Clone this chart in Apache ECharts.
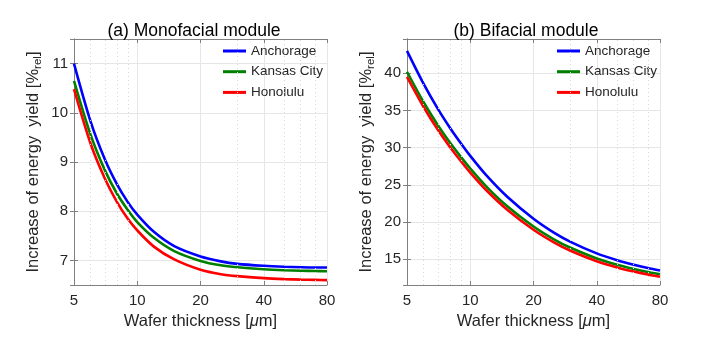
<!DOCTYPE html>
<html>
<head>
<meta charset="utf-8">
<script src="https://cdn.jsdelivr.net/npm/echarts@6/dist/echarts.min.js"></script>
<style>
html,body{margin:0;padding:0;background:#fff}
#chart{width:708px;height:344px}
</style>
</head>
<body>
<div id="chart"></div>
<script>
// wafer thickness (um), log scale in the figure
var thickness = [5, 6, 7, 8, 9, 10, 12, 15, 20, 25, 30, 40, 50, 60, 70, 80];

// (a) monofacial module, increase of energy yield [%rel]
var monoAnchorage = [11.0, 9.82, 9.06, 8.55, 8.19, 7.93, 7.58, 7.29, 7.08, 6.98, 6.93, 6.89, 6.87, 6.86, 6.855, 6.855];
var monoKansas    = [10.65, 9.55, 8.84, 8.36, 8.03, 7.78, 7.46, 7.19, 6.99, 6.90, 6.86, 6.82, 6.80, 6.79, 6.785, 6.78];
var monoHonolulu  = [10.48, 9.37, 8.67, 8.19, 7.85, 7.61, 7.28, 7.02, 6.81, 6.72, 6.68, 6.64, 6.62, 6.61, 6.605, 6.60];

// (b) bifacial module
var biAnchorage = [43.0, 38.56, 35.24, 32.68, 30.63, 28.9, 26.2, 23.4, 20.45, 18.59, 17.35, 15.8, 14.88, 14.27, 13.83, 13.5];
var biKansas    = [40.2, 36.1, 33.04, 30.68, 28.79, 27.2, 24.71, 22.13, 19.41, 17.69, 16.55, 15.12, 14.27, 13.71, 13.3, 13.0];
var biHonolulu  = [39.5, 35.46, 32.43, 30.1, 28.24, 26.66, 24.21, 21.66, 18.97, 17.28, 16.15, 14.74, 13.91, 13.35, 12.95, 12.65];

var xTicks = [5, 10, 20, 40, 80];
var xMinorGrid = [6, 7, 8, 9, 30, 50, 60, 70];
var cities = ['Anchorage', 'Kansas City', 'Honolulu'];
var colors = ['#0000ff', '#008000', '#ff0000'];

var FONT = 'Liberation Sans, Arial, Helvetica, sans-serif';
var INK = '#262626';
var BOX = '#808080';

function lg(t) { return Math.log2(t / 5); }
function pts(arr) {
    return thickness.map(function (t, i) { return [lg(t), arr[i]]; });
}

var myChart = echarts.init(document.getElementById('chart'));

function xAx(g, top) {
    return {
        type: 'value', gridIndex: g, min: 0, max: 4, interval: 1,
        position: top ? 'top' : 'bottom',
        axisLine: { show: true, lineStyle: { color: BOX, width: 1 } },
        axisTick: { show: true, inside: true, length: 4, lineStyle: { color: BOX } },
        axisLabel: {
            show: !top, margin: 8, fontSize: 15, color: INK, fontFamily: FONT,
            formatter: function (v) { return xTicks[Math.round(v)]; }
        },
        splitLine: { show: !top, lineStyle: { color: '#e6e6e6', width: 1 } },
        name: top ? '' : '{t|Wafer thickness [}{i|\u03bc}{t|m]}',
        nameLocation: 'middle', nameGap: 25,
        nameTextStyle: {
            rich: {
                t: { fontSize: 16.5, color: INK, fontFamily: FONT },
                i: { fontSize: 16.5, color: INK, fontFamily: FONT, fontStyle: 'italic' }
            }
        }
    };
}

function yAx(g, right, min, max, split) {
    return {
        type: 'value', gridIndex: g, min: min, max: max, splitNumber: split,
        position: right ? 'right' : 'left',
        axisLine: { show: true, lineStyle: { color: BOX, width: 1 } },
        axisTick: { show: true, inside: true, length: 4, lineStyle: { color: BOX } },
        axisLabel: {
            show: !right, margin: 6, fontSize: 15, color: INK, fontFamily: FONT,
            showMinLabel: false, showMaxLabel: false
        },
        splitLine: { show: !right, lineStyle: { color: '#e6e6e6', width: 1 } },
        name: right ? '' : '{t|Increase of energy  yield [%}{s|rel}{t|]}',
        nameLocation: 'middle', nameGap: 31,
        nameTextStyle: {
            rich: {
                t: { fontSize: 16.5, color: INK, fontFamily: FONT, lineHeight: 20 },
                s: { fontSize: 11.5, color: INK, fontFamily: FONT, lineHeight: 20, padding: [9, 0, 0, 0] }
            }
        }
    };
}

function curve(name, i, data, g) {
    return {
        name: name, type: 'line', xAxisIndex: g * 2, yAxisIndex: g * 2,
        data: pts(data), showSymbol: false, symbol: 'none',
        smooth: 0.3,
        lineStyle: { color: colors[i], width: 2.6 },
        itemStyle: { color: colors[i] },
        z: 3
    };
}

function minorGrid(g) {
    return {
        type: 'line', xAxisIndex: g * 2, yAxisIndex: g * 2, data: [], z: 1,
        silent: true,
        markLine: {
            silent: true, symbol: ['none', 'none'], label: { show: false },
            lineStyle: { color: '#d9d9d9', type: [1, 3], width: 1 },
            data: xMinorGrid.map(function (t) { return { xAxis: lg(t) }; })
        }
    };
}

function legendAt(left) {
    return {
        data: cities, orient: 'vertical', left: left, top: 44, padding: 0,
        icon: 'rect', itemWidth: 23, itemHeight: 3, itemGap: 6.7,
        textStyle: { fontSize: 13.5, color: INK, fontFamily: FONT, lineHeight: 14 }
    };
}

option = {
    backgroundColor: '#fff',
    animation: false,
    title: [
        { text: '(a) Monofacial module', left: 189, top: 17, textAlign: 'center',
          textStyle: { fontSize: 17.5, fontWeight: 'normal', color: '#000', fontFamily: FONT } },
        { text: '(b) Bifacial module', left: 521, top: 17, textAlign: 'center',
          textStyle: { fontSize: 17.5, fontWeight: 'normal', color: '#000', fontFamily: FONT } }
    ],
    legend: [legendAt(223), legendAt(557)],
    grid: [
        { left: 74, top: 39, width: 253, height: 246 },
        { left: 407, top: 39, width: 253, height: 246 }
    ],
    xAxis: [xAx(0, false), xAx(0, true), xAx(1, false), xAx(1, true)],
    yAxis: [
        yAx(0, false, 6.5, 11.5, 5), yAx(0, true, 6.5, 11.5, 5),
        yAx(1, false, 11.55, 44.6, 7), yAx(1, true, 11.55, 44.6, 7)
    ],
    series: [
        minorGrid(0),
        minorGrid(1),
        curve(cities[0], 0, monoAnchorage, 0),
        curve(cities[1], 1, monoKansas, 0),
        curve(cities[2], 2, monoHonolulu, 0),
        curve(cities[0], 0, biAnchorage, 1),
        curve(cities[1], 1, biKansas, 1),
        curve(cities[2], 2, biHonolulu, 1)
    ]
};

myChart.setOption(option);
window.addEventListener('resize', function () {
    myChart.resize();
});
</script>
</body>
</html>
